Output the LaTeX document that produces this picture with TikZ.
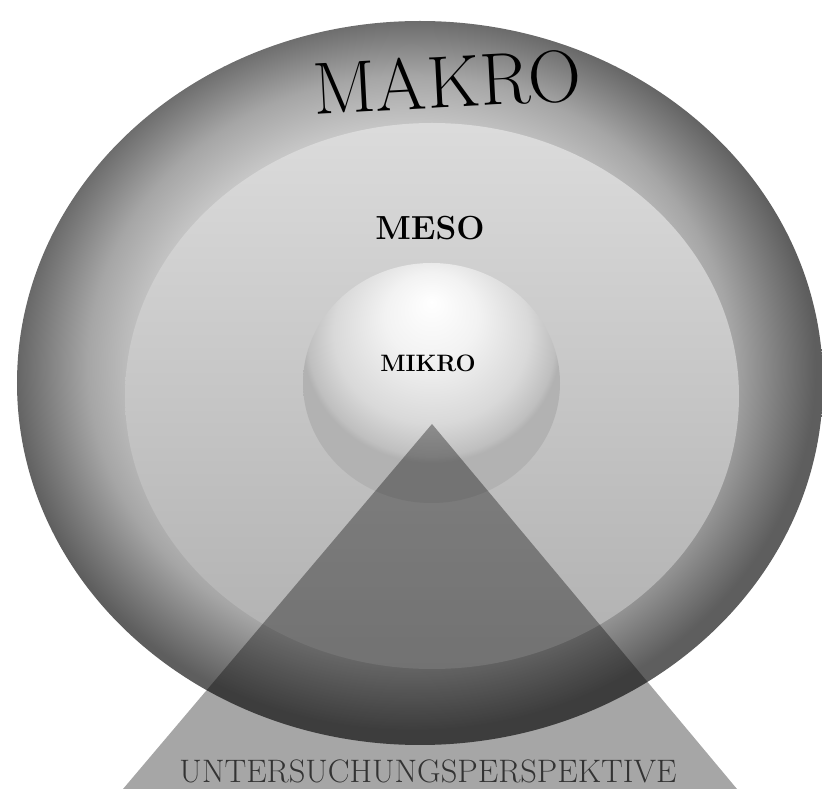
\documentclass[tikz,border=0pt]{standalone}
\usepackage{tikz}

% shadings for the three levels
\pgfdeclareradialshading{makroshade}{\pgfpoint{-1bp}{2bp}}{color(0bp)=(black!17); color(16bp)=(black!21); color(20bp)=(black!35); color(23bp)=(black!52); color(25bp)=(black!63); color(50bp)=(black!63)}
\pgfdeclareradialshading{mikroshade}{\pgfpoint{0bp}{17bp}}{color(0bp)=(white); color(9bp)=(black!5); color(19bp)=(black!15); color(24bp)=(black!25); color(25bp)=(black!30); color(50bp)=(black!30)}

\tikzset{
  ebene/.style={inner sep=0pt, text=black},
  blick/.style={fill=black, fill opacity=0.35, draw=none}
}

\begin{document}
\begin{tikzpicture}
  \useasboundingbox (0,0) rectangle (16.44,15.78);
  \clip (0,0) rectangle (16.44,15.78);
  % levels
  \shade[shading=makroshade] (8.40,8.12) ellipse (8.06 and 7.24);
  \shade[top color=black!14, bottom color=black!31] (8.64,7.86) ellipse (6.14 and 5.46);
  \shade[shading=mikroshade] (8.63,8.12) ellipse (2.57 and 2.40);
  % perspective
  \coordinate (spitze) at (8.64,7.30);
  \coordinate (links) at (2.46,0);
  \coordinate (rechts) at (14.74,0);
  \fill[blick] (spitze) -- (rechts) -- (links) -- cycle;
  % labels
  \node[ebene, rotate=3, font=\fontsize{42}{50}\selectfont] (makro) at (8.94,14.14) {MAKRO};
  \node[ebene, font=\fontsize{19}{22}\selectfont\bfseries] (meso) at (8.60,11.22) {MESO};
  \node[ebene, font=\fontsize{13.5}{16}\selectfont\bfseries] (mikro) at (8.56,8.52) {MIKRO};
  \node[ebene, anchor=base, text=black!80, font=\fontsize{18.5}{22}\selectfont] (perspektive) at (8.56,0.12) {UNTERSUCHUNGSPERSPEKTIVE};
\end{tikzpicture}
\end{document}
